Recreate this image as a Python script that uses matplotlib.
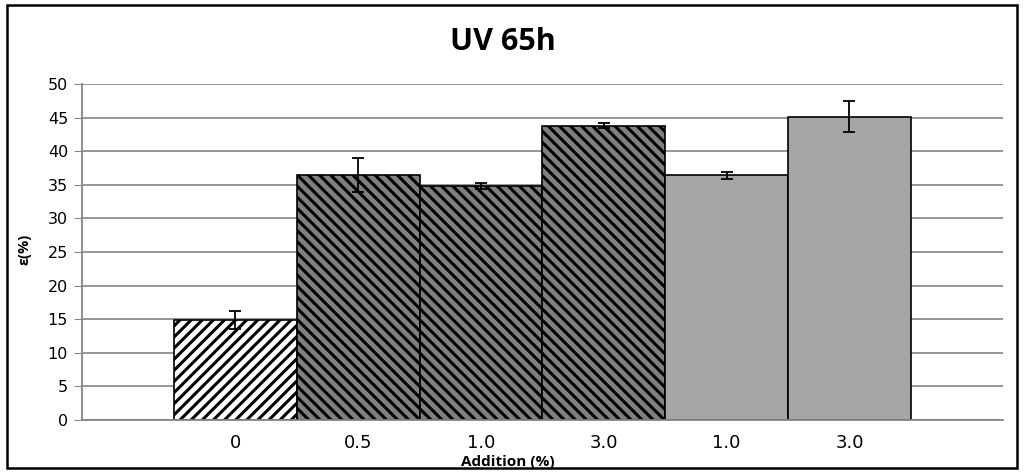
import matplotlib.pyplot as plt
from matplotlib.patches import Rectangle

labels = ['0', '0.5', '1.0', '3.0', '1.0', '3.0']
values = [14.9, 36.5, 34.8, 43.8, 36.4, 45.1]
errors = [1.3, 2.5, 0.4, 0.4, 0.5, 2.3]
colors = ['white', '#7f7f7f', '#7f7f7f', '#7f7f7f', '#a6a6a6', '#a6a6a6']
hatches = ['///', '\\\\\\', '\\\\\\', '\\\\\\', '', '']

plt.rcParams['hatch.linewidth'] = 2.2

fig = plt.figure(figsize=(10.24, 4.75), dpi=100)
ax = fig.add_axes([0.080, 0.1158, 0.8995, 0.7074])

x = list(range(len(values)))
for i in x:
    ax.bar(i, values[i], width=1.0, color=colors[i], edgecolor='black',
           linewidth=1.2, hatch=hatches[i], zorder=2)
ax.errorbar(x, values, yerr=errors, fmt='none', ecolor='black',
            elinewidth=1.3, capsize=4, capthick=1.3, zorder=3)

ax.set_xlim(-1.25, 5.25 + 1.0)
ax.set_ylim(0, 50)
ax.set_yticks(range(0, 51, 5))
ax.set_xticks(x)
ax.set_xticklabels(labels, fontsize=13)
ax.tick_params(axis='x', length=0, pad=10)
ax.tick_params(axis='y', length=6, color='#868686', labelsize=11.5, pad=4)

ax.grid(axis='y', color='#8c8c8c', linewidth=1.3, zorder=0)
ax.set_axisbelow(True)
for s in ['top', 'right']:
    ax.spines[s].set_visible(False)
ax.spines['left'].set_color('#868686')
ax.spines['bottom'].set_color('#868686')
ax.spines['left'].set_linewidth(1.3)
ax.spines['bottom'].set_linewidth(1.3)

fig.text(0.491, 0.912, 'UV 65h', fontsize=22, fontweight='bold',
         family='Open Sans', ha='center', va='center')
fig.text(0.024, 0.475, 'ε(%)', fontsize=10.5, fontweight='bold',
         family='Open Sans', rotation=90, ha='center', va='center')
fig.text(0.496, 0.028, 'Addition (%)', fontsize=11, fontweight='bold',
         family='Open Sans', ha='center', va='center')

fig.patches.append(Rectangle((0.007, 0.015), 0.986, 0.975, transform=fig.transFigure,
                             fill=False, edgecolor='black', linewidth=1.8))

fig.savefig('out.png', dpi=100)
